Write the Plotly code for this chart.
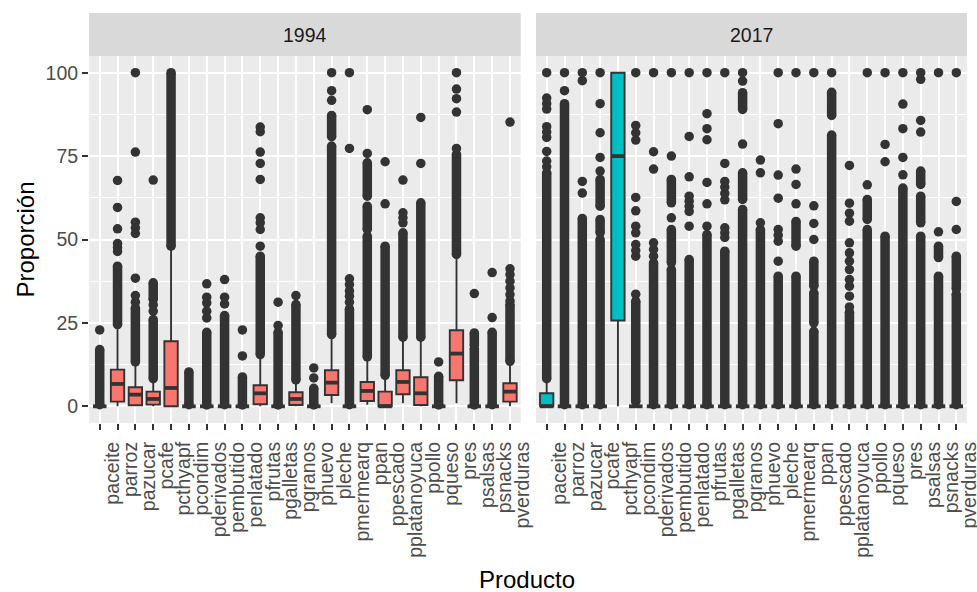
import plotly.graph_objects as go

# ---------------------------------------------------------------------------
# Data: distribution summaries of the share (%) of each product, by survey year
# ---------------------------------------------------------------------------
PRODUCTS = ["paceite", "parroz", "pazucar", "pcafe", "pcthyapf", "pcondim",
            "pderivados", "pembutido", "penlatado", "pfrutas", "pgalletas",
            "pgranos", "phuevo", "pleche", "pmermearq", "ppan", "ppescado",
            "pplatanoyuca", "ppollo", "pqueso", "pres", "psalsas", "psnacks",
            "pverduras"]
YEARS = ["1994", "2017"]

# 1994 box statistics
Q1_1994 = [0, 1.4, 0.3, 0.5, 0, 0, 0, 0, 0, 0.6, 0, 0.4, 0, 3.4, 0, 1.6, 0, 3.6, 0.4, 0, 7.8, 0, 0, 1.4]
MED_1994 = [0, 6.7, 3.5, 2.2, 5.5, 0, 0, 0, 0, 3.9, 0, 2.2, 0, 7.1, 0, 4.6, 0, 7.3, 3.9, 0, 15.8, 0, 0, 4.4]
Q3_1994 = [0, 11.0, 5.7, 4.4, 19.5, 0, 0, 0, 0, 6.3, 0, 4.2, 0, 10.8, 0, 7.3, 4.4, 10.8, 8.7, 0, 22.8, 0, 0, 6.9]
LO_1994 = [0, 0, 0, 0, 0, 0, 0, 0, 0, 0, 0, 0, 0, 0.9, 0, 0.5, 0, 0.9, 0, 0, 0.9, 0, 0, 0]
HI_1994 = [0, 24.0, 12.8, 7.8, 47.5, 0, 0, 0, 0, 15.0, 0, 7.4, 0, 21.0, 0, 14.3, 8.8, 20.2, 20.2, 0, 45.0, 0, 0, 13.0]
# 1994 outliers: dense runs (low, high) and isolated values
DENSE_1994 = [
    [(0.5, 17.0)], [(24.5, 42.0)], [(13.3, 29.5)], [(8.3, 26.0), (32.0, 37.0)],
    [(48.0, 100.0)], [(0.5, 10.3)], [(0.4, 22.2)], [(0.5, 27.2)], [(0.4, 8.8)],
    [(15.5, 45.0)], [(0.4, 22.2)], [(7.9, 30.5)], [(0.4, 5.4)],
    [(21.5, 78.0), (80.8, 87.2)], [(0.5, 29.2)], [(14.8, 51.0), (53.0, 60.0), (63.0, 73.0)],
    [(9.3, 48.0)], [(20.7, 52.0)], [(20.7, 61.0)], [(0.4, 9.0)], [(45.5, 75.5)],
    [(0.4, 17.3), (18.3, 22.0)], [(0.5, 22.2)], [(13.5, 30.5)],
]
POINTS_1994 = [
    [22.9], [46.4, 47.6, 48.8, 53.2, 59.6, 67.7],
    [31.2, 33.2, 38.4, 51.8, 53.5, 55.2, 76.2, 100], [28.5, 30.4, 67.8], [], [],
    [26.5, 28.5, 31.0, 32.7, 36.7], [30.7, 32.7, 38.0], [15.1, 22.9],
    [48.0, 53.0, 55.0, 56.5, 68.0, 72.8, 76.2, 82.3, 83.7], [24.2, 31.2], [33.2],
    [8.5, 11.5], [91.7, 94.6, 100], [31.2, 33.0, 34.6, 36.5, 38.2, 77.3, 100],
    [75.8, 88.9], [60.7, 73.3], [55.0, 56.5, 58.0, 67.8], [72.8, 86.6], [13.3],
    [77.3, 88.2, 92.2, 95.1, 100], [33.8], [26.6, 40.1],
    [31.6, 33.5, 35.5, 37.5, 39.5, 41.2, 85.2],
]

# 2017 box statistics
Q1_2017 = [0, 0, 0, 0, 25.7, 0, 0, 0, 0, 0, 0, 0, 0, 0, 0, 0, 0, 0, 0, 0, 0, 0, 0, 0]
MED_2017 = [0, 0, 0, 0, 75.0, 0, 0, 0, 0, 0, 0, 0, 0, 0, 0, 0, 0, 0, 0, 0, 0, 0, 0, 0]
Q3_2017 = [3.9, 0, 0, 0, 100, 0, 0, 0, 0, 0, 0, 0, 0, 0, 0, 0, 0, 0, 0, 0, 0, 0, 0, 0]
LO_2017 = [0, 0, 0, 0, 0, 0, 0, 0, 0, 0, 0, 0, 0, 0, 0, 0, 0, 0, 0, 0, 0, 0, 0, 0]
HI_2017 = [7.8, 0, 0, 0, 100, 0, 0, 0, 0, 0, 0, 0, 0, 0, 0, 0, 0, 0, 0, 0, 0, 0, 0, 0]
# 2017 outliers: dense runs (low, high) and isolated values
DENSE_2017 = [
    [(8.3, 70.0)], [(0.5, 90.7)], [(0.5, 56.3)], [(0.5, 50.0), (52.0, 56.0), (60.0, 68.0)],
    [], [(1.4, 31.5)], [(0.5, 43.0)], [(0.5, 41.0), (43.0, 53.0), (61.0, 68.0)],
    [(0.5, 44.0)], [(0.5, 51.5)], [(0.5, 46.5)], [(0.5, 59.0), (62.0, 70.0), (89.0, 94.0)],
    [(0.5, 53.0)], [(0.5, 39.0)], [(0.5, 39.0), (48.0, 55.4)],
    [(0.5, 22.5), (25.0, 34.0), (36.0, 43.5)], [(0.5, 81.3), (87.2, 94.1)],
    [(0.5, 28.2)], [(0.5, 53.0), (56.0, 62.0)], [(0.5, 51.0)], [(0.5, 65.4)],
    [(0.5, 51.0), (55.0, 63.0), (66.5, 70.5)], [(0.5, 39.0), (44.6, 48.0)],
    [(0.5, 33.6), (35.2, 45.0)],
]
POINTS_2017 = [
    [71.8, 73.5, 76.4, 80.6, 82.2, 83.8, 89.1, 90.7, 92.4, 100], [94.6, 100],
    [63.9, 67.4, 97.6, 100], [70.5, 74.6, 82.0, 90.7, 100], [],
    [33.6, 45.0, 46.7, 48.5, 52.0, 54.0, 58.6, 62.6, 79.8, 82.0, 84.2, 100],
    [45.0, 47.0, 49.0, 71.1, 76.3, 100], [56.5, 75.0, 100],
    [54.0, 58.4, 60.0, 61.5, 63.0, 68.8, 80.9, 100],
    [54.0, 60.7, 67.1, 79.9, 83.2, 87.7, 100],
    [50.6, 52.0, 53.5, 61.9, 63.8, 65.7, 67.4, 72.8, 100], [78.6, 97.5, 100],
    [55.0, 70.0, 73.8], [43.5, 49.5, 51.3, 53.0, 62.4, 69.3, 84.7, 100],
    [60.7, 66.5, 71.1, 100], [50.0, 54.8, 60.1, 100], [100],
    [29.8, 33.0, 36.0, 38.0, 41.0, 43.5, 46.0, 49.0, 55.5, 57.9, 60.9, 72.2],
    [66.4, 100], [73.3, 78.5, 100], [69.4, 74.6, 83.2, 90.6, 100],
    [82.2, 85.7, 98.0, 100], [52.3, 100], [53.0, 61.4, 100],
]

Y_TICKS = [0, 25, 50, 75, 100]

# ---------------------------------------------------------------------------
# Styling (ggplot2 grey theme look)
# ---------------------------------------------------------------------------
FONT = "Liberation Sans, Arial, sans-serif"
DARK = "#333333"
FILLS = {"1994": "#F8766D", "2017": "#00BFC4"}
PANEL_BG = "#EBEBEB"
STRIP_BG = "#D9D9D9"
PT = 9.5            # outlier point diameter (px)
BOX_W = 0.75        # box width in category units

W, H = 977, 592
L, R, T, B = 89, 10, 56, 169
plot_w = W - L - R
plot_h = H - T - B
dom1 = [0, (520.7 - L) / plot_w]
dom2 = [(536 - L) / plot_w, 1]

panels = {
    "1994": dict(q1=Q1_1994, med=MED_1994, q3=Q3_1994, lo=LO_1994, hi=HI_1994,
                 dense=DENSE_1994, pts=POINTS_1994, xa="x", ya="y"),
    "2017": dict(q1=Q1_2017, med=MED_2017, q3=Q3_2017, lo=LO_2017, hi=HI_2017,
                 dense=DENSE_2017, pts=POINTS_2017, xa="x2", ya="y2"),
}

fig = go.Figure()

for year in YEARS:
    p = panels[year]
    # dense runs of outliers -> thick segments capped by points
    bx, by = [], []
    for prod, runs in zip(PRODUCTS, p["dense"]):
        for lo, hi in runs:
            bx += [prod, prod, None]
            by += [lo, hi, None]
    fig.add_trace(go.Scatter(
        x=bx, y=by, mode="lines+markers", xaxis=p["xa"], yaxis=p["ya"],
        line=dict(color=DARK, width=PT), marker=dict(color=DARK, size=PT),
        connectgaps=False, showlegend=False, hoverinfo="skip"))
    # isolated outliers
    ox, oy = [], []
    for prod, vals in zip(PRODUCTS, p["pts"]):
        for v in vals:
            ox.append(prod)
            oy.append(v)
    fig.add_trace(go.Scatter(
        x=ox, y=oy, mode="markers", xaxis=p["xa"], yaxis=p["ya"],
        marker=dict(color=DARK, size=PT), showlegend=False, hoverinfo="skip"))
    # boxes from precomputed statistics
    fig.add_trace(go.Box(
        x=PRODUCTS, q1=p["q1"], median=p["med"], q3=p["q3"],
        lowerfence=p["lo"], upperfence=p["hi"], orientation="v",
        boxpoints=False, width=BOX_W, whiskerwidth=0,
        fillcolor=FILLS[year], line=dict(color=DARK, width=1.9),
        xaxis=p["xa"], yaxis=p["ya"], showlegend=False, hoverinfo="skip"))
    # thick median bars
    fig.add_trace(go.Scatter(
        x=PRODUCTS, y=p["med"], mode="markers", xaxis=p["xa"], yaxis=p["ya"],
        marker=dict(symbol="line-ew", size=BOX_W * plot_w * dom1[1] / 24.2 / 1.4,
                    line=dict(color=DARK, width=3.8)),
        showlegend=False, hoverinfo="skip"))

xaxis_common = dict(
    type="category", categoryorder="array", categoryarray=PRODUCTS,
    tickmode="array", tickvals=PRODUCTS, ticktext=PRODUCTS,
    range=[-0.6, len(PRODUCTS) - 0.4], showgrid=True, gridcolor="white",
    gridwidth=1.8, zeroline=False, showline=False, ticks="outside",
    ticklen=6, tickwidth=1.8, tickcolor=DARK, tickangle=-90,
    ticklabelshift=13, ticklabelstandoff=4, automargin=False,
    ticklabeloverflow="allow",
    tickfont=dict(family=FONT, size=19.5, color="#4D4D4D"),
)
minor_vals = [(a + b) / 2 for a, b in zip(Y_TICKS[:-1], Y_TICKS[1:])]
yaxis_common = dict(
    range=[-5, 105], tickvals=Y_TICKS, showgrid=True, gridcolor="white",
    gridwidth=1.8, zeroline=False, showline=False, automargin=False,
    minor=dict(tickvals=minor_vals, showgrid=True, gridcolor="white",
               gridwidth=0.9, ticks=""),
)

fig.update_layout(
    width=W, height=H,
    margin=dict(l=L, r=R, t=T, b=B, pad=0, autoexpand=False),
    paper_bgcolor="white", plot_bgcolor=PANEL_BG,
    font=dict(family=FONT),
    xaxis=dict(domain=dom1, anchor="y", **xaxis_common),
    xaxis2=dict(domain=dom2, anchor="y2", **xaxis_common),
    yaxis=dict(anchor="x", ticks="outside", ticklen=6, tickwidth=1.8,
               tickcolor=DARK,
               tickfont=dict(family=FONT, size=19.5, color="#4D4D4D"),
               **yaxis_common),
    yaxis2=dict(anchor="x2", matches="y", showticklabels=False, ticks="",
                **yaxis_common),
)

# facet strips
strip_top = 1 + (T - 13) / plot_h
for year, dom in zip(YEARS, [dom1, dom2]):
    fig.add_shape(type="rect", xref="paper", yref="paper",
                  x0=dom[0], x1=dom[1], y0=1, y1=strip_top,
                  fillcolor=STRIP_BG, line=dict(width=0), layer="below")
    fig.add_annotation(text=year, xref="paper", yref="paper",
                       x=(dom[0] + dom[1]) / 2, y=(1 + strip_top) / 2,
                       xanchor="center", yanchor="middle", showarrow=False,
                       font=dict(family=FONT, size=19.5, color="#1A1A1A"))

# axis titles
fig.add_annotation(text="Proporción", xref="paper", yref="paper",
                   x=(25 - L) / plot_w, y=0.5, textangle=-90,
                   xanchor="center", yanchor="middle", showarrow=False,
                   font=dict(family=FONT, size=24, color="black"))
fig.add_annotation(text="Producto", xref="paper", yref="paper",
                   x=(527 - L) / plot_w, y=-(579 - (H - B)) / plot_h,
                   xanchor="center", yanchor="middle", showarrow=False,
                   font=dict(family=FONT, size=24, color="black"))

fig.write_html("out.html")
